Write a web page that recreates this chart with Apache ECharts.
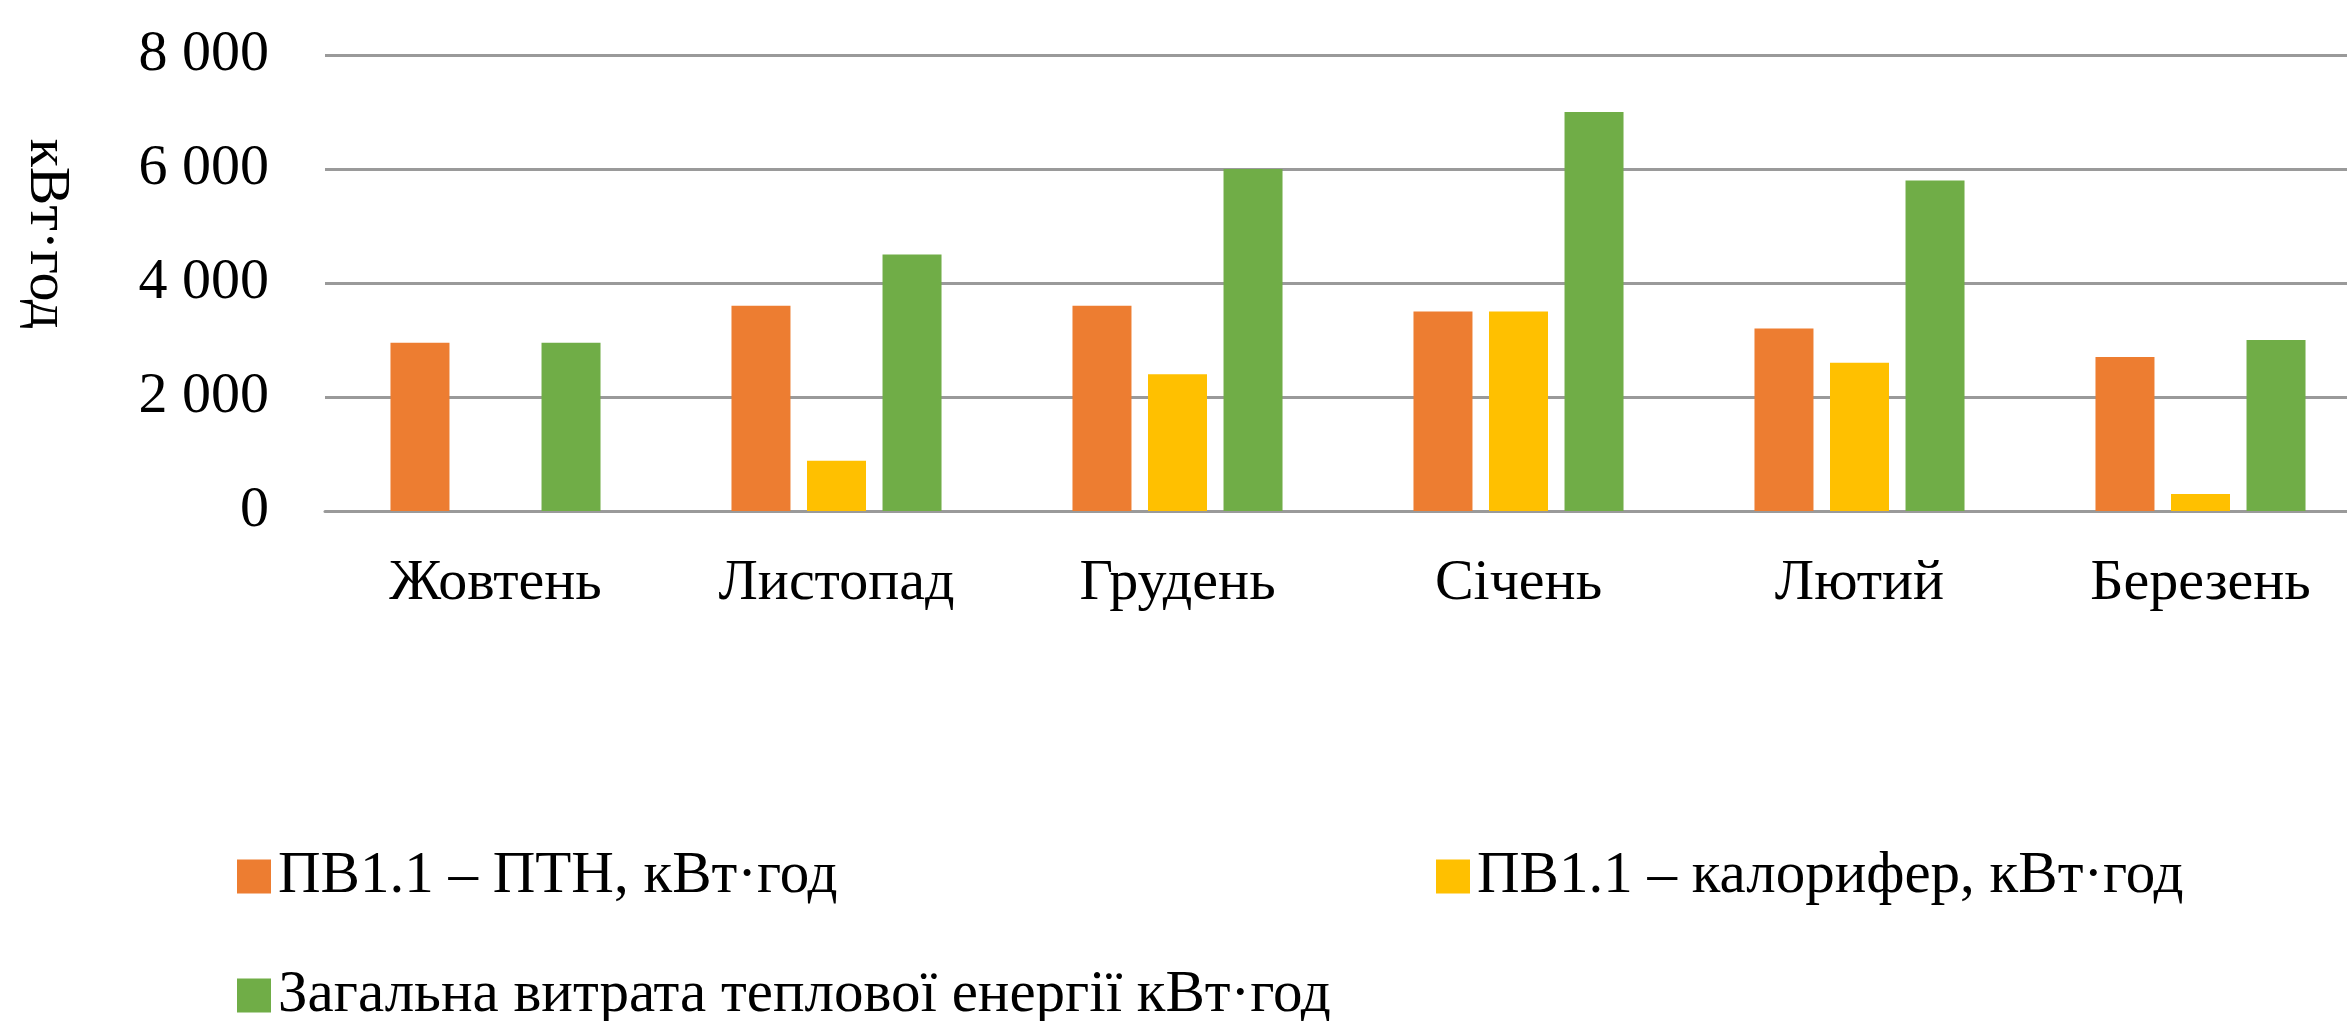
<!DOCTYPE html>
<html>
<head>
<meta charset="utf-8">
<script src="https://cdn.jsdelivr.net/npm/echarts@6/dist/echarts.min.js"></script>
<style>
  html, body { margin: 0; padding: 0; background: #fff; }
  #chart { width: 2347px; height: 1021px; }
</style>
</head>
<body>
<div id="chart"></div>
<script>
var months = ['Жовтень', 'Листопад', 'Грудень', 'Січень', 'Лютий', 'Березень'];
var seriesNames = ['ПВ1.1 – ПТН, кВт·год', 'ПВ1.1 – калорифер, кВт·год', 'Загальна витрата теплової енергії кВт·год'];
var heatPump = [2950, 3600, 3600, 3500, 3200, 2700];
var heater = [0, 880, 2400, 3500, 2600, 300];
var total = [2950, 4500, 6000, 7000, 5800, 3000];
var colors = ['#ED7D31', '#FFC000', '#70AD47'];

var font = 'Liberation Serif, Times New Roman, serif';
var myChart = echarts.init(document.getElementById('chart'));

function legendAt(name, left, top) {
    return {
        data: [name],
        left: left,
        top: top,
        icon: 'rect',
        itemWidth: 34,
        itemHeight: 34,
        itemGap: 0,
        textStyle: { fontFamily: font, fontSize: 59, color: '#000', padding: [0, 0, 0, 2] }
    };
}

var option = {
    animation: false,
    color: colors,
    grid: { left: 325, top: 55, width: 2046, height: 456, outerBoundsMode: 'none' },
    legend: [
        legendAt(seriesNames[0], 232, 842),
        legendAt(seriesNames[1], 1431, 842),
        legendAt(seriesNames[2], 232, 961)
    ],
    graphic: [{
        type: 'text',
        x: 46,
        y: 234,
        rotation: -Math.PI / 2,
        style: {
            text: 'кВт·год',
            font: '58px ' + font,
            fill: '#000',
            align: 'center',
            verticalAlign: 'middle'
        }
    }],
    xAxis: {
        type: 'category',
        data: months,
        axisTick: { show: false },
        axisLine: { lineStyle: { color: '#9a9a9a', width: 3 } },
        axisLabel: { fontFamily: font, fontSize: 58, color: '#000', margin: 44 }
    },
    yAxis: {
        type: 'value',
        min: 0,
        max: 8000,
        interval: 2000,
        axisLine: { show: false },
        axisTick: { show: false },
        splitLine: { lineStyle: { color: '#9a9a9a', width: 3 } },
        axisLabel: {
            fontFamily: font, fontSize: 58, color: '#000', margin: 56,
            formatter: function(v) {
                return String(v).replace(/\B(?=(\d{3})+(?!\d))/g, ' ');
            }
        }
    },
    series: [
        { name: seriesNames[0], type: 'bar', data: heatPump, barWidth: 59, barGap: '28%' },
        { name: seriesNames[1], type: 'bar', data: heater, barWidth: 59, barGap: '28%' },
        { name: seriesNames[2], type: 'bar', data: total, barWidth: 59, barGap: '28%' }
    ]
};

myChart.setOption(option);
</script>
</body>
</html>
